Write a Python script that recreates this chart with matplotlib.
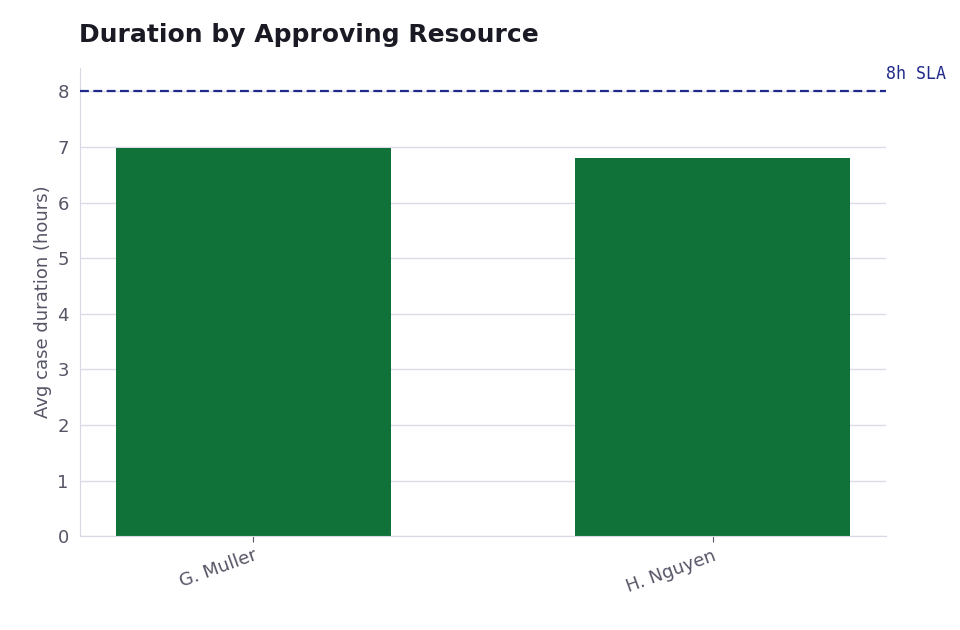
import matplotlib
matplotlib.use("Agg")
import matplotlib.pyplot as plt

resources = ["G. Muller", "H. Nguyen"]
durations = [6.98, 6.80]
sla_hours = 8
sla_label = "8h SLA"

fig = plt.figure(figsize=(9.6, 6.3), dpi=100)
ax = fig.add_axes([0.0833, 0.149, 0.8397, 0.743])
ax.bar(range(len(resources)), durations, width=0.6, color="#107139", zorder=2)
ax.axhline(sla_hours, color="#1f2a8a", linestyle=(0, (4, 2)), linewidth=1.6, zorder=3)
ax.text(1.378 + 0.0, sla_hours + 0.15, sla_label, color="#1f2a8a", fontsize=12,
        family="DejaVu Sans Mono", ha="left", va="bottom",
        transform=ax.transData, clip_on=False)
ax.set_xlim(-0.378, 1.378)
ax.set_ylim(0, 8.42)
ax.set_yticks(range(0, 9))
ax.set_xticks(range(len(resources)))
ax.set_xticklabels(resources, rotation=20, ha="right", rotation_mode="anchor")
ax.grid(axis="y", color="#dcdce8", linewidth=1, zorder=0)
ax.set_axisbelow(True)
for s in ["top", "right"]:
    ax.spines[s].set_visible(False)
for s in ["left", "bottom"]:
    ax.spines[s].set_color("#d8d8e4")
ax.tick_params(axis="y", length=0, labelsize=13, labelcolor="#555566", pad=8)
ax.tick_params(axis="x", length=4, color="#555566", labelsize=13, labelcolor="#555566")
ax.set_ylabel("Avg case duration (hours)", fontsize=13, color="#555566")
fig.text(0.0823, 0.945, "Duration by Approving Resource", fontsize=18,
         fontweight="bold", color="#1a1a24", ha="left", va="center")
fig.savefig("out.png", dpi=100)
